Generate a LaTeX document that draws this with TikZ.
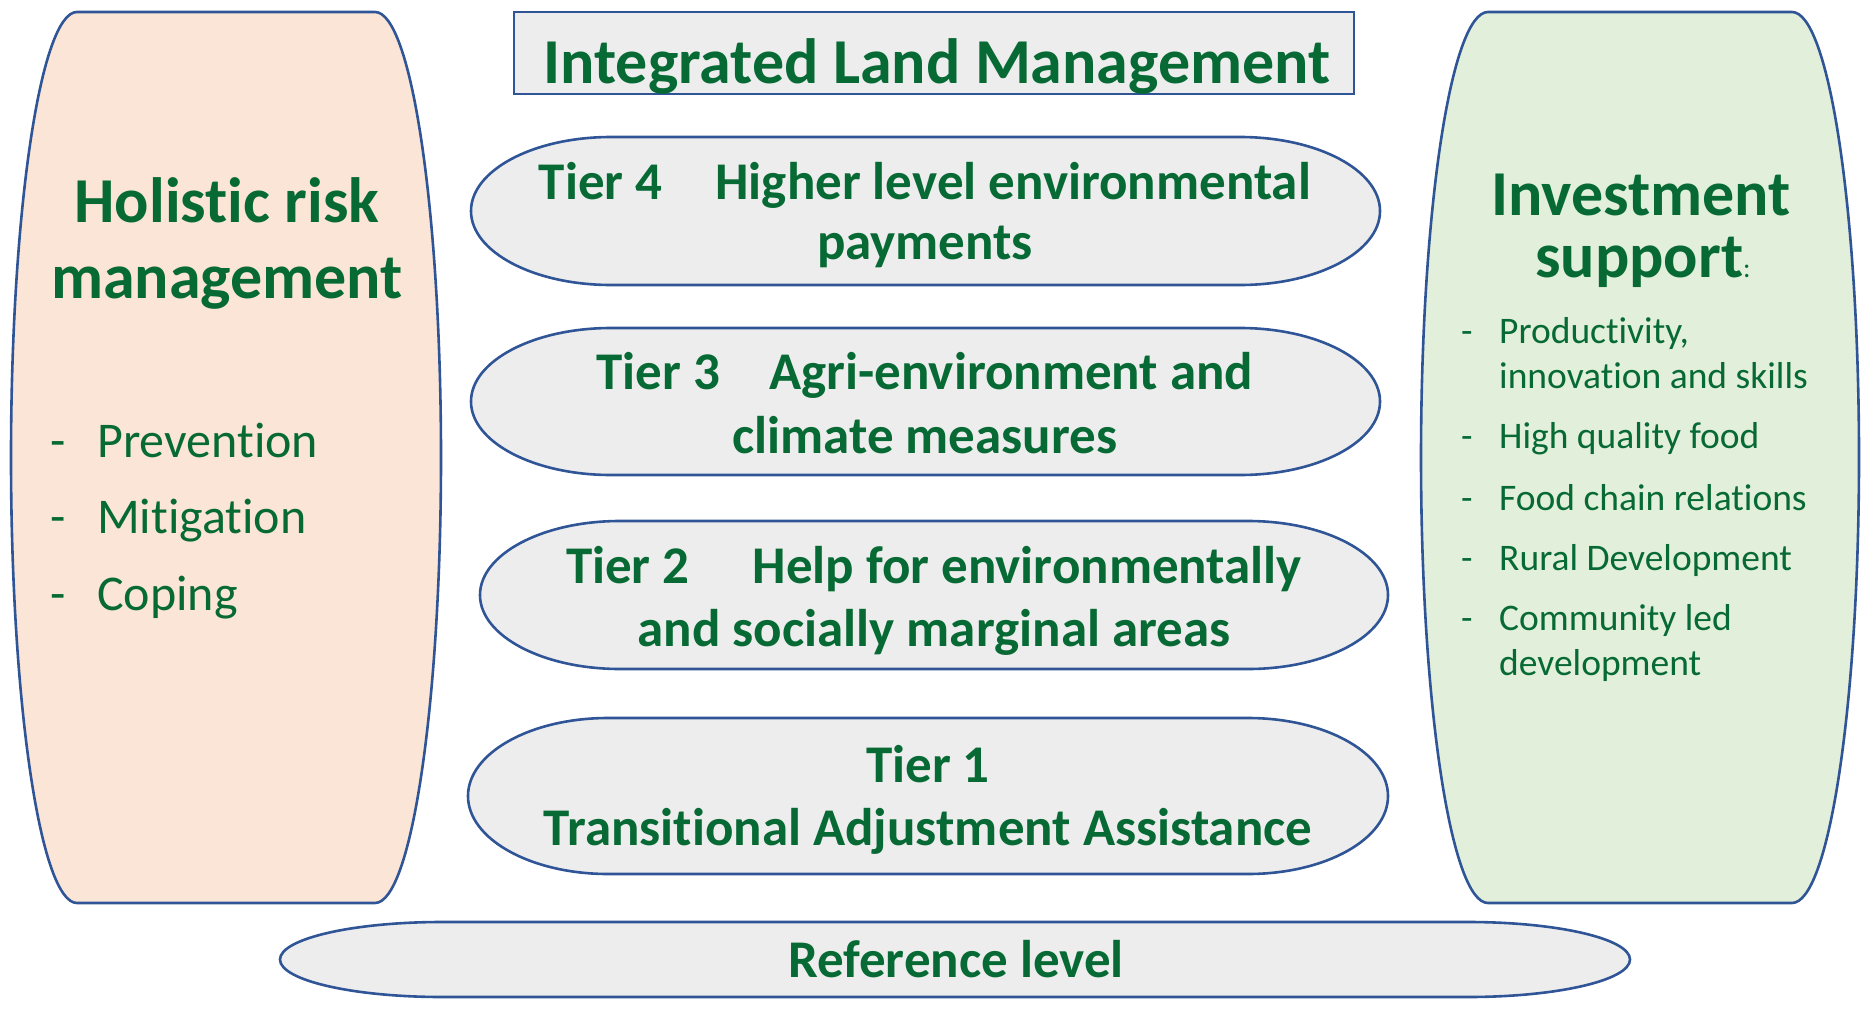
\documentclass[tikz,border=0pt]{standalone}
\usepackage{fontspec}
\setmainfont{Carlito}[Ligatures=NoCommon]
\definecolor{txtgreen}{HTML}{076A35}
\definecolor{edgeblue}{HTML}{2F5597}
\definecolor{tiergrey}{HTML}{EDEDED}
\definecolor{riskfill}{HTML}{FBE5D6}
\definecolor{investfill}{HTML}{E2EFDA}

% Closed shape with flat top/bottom and half-elliptical ends:
% #1 style, (#2,#3) top-left, (#4,#5) bottom-right, #6 horizontal radius of the ends
\newcommand\capsuleshape[6]{%
  \pgfmathsetmacro\cpym{(#3+#5)/2}%
  \pgfmathsetmacro\cpry{(#5-#3)/2}%
  \pgfmathsetmacro\cpkx{0.5523*#6}%
  \pgfmathsetmacro\cpky{0.5523*\cpry}%
  \pgfmathsetmacro\cpa{#2+#6}%
  \pgfmathsetmacro\cpb{#4-#6}%
  \draw[#1] (\cpa,#3) -- (\cpb,#3)
    .. controls (\cpb+\cpkx,#3) and (#4,\cpym-\cpky) .. (#4,\cpym)
    .. controls (#4,\cpym+\cpky) and (\cpb+\cpkx,#5) .. (\cpb,#5)
    -- (\cpa,#5)
    .. controls (\cpa-\cpkx,#5) and (#2,\cpym+\cpky) .. (#2,\cpym)
    .. controls (#2,\cpym-\cpky) and (\cpa-\cpkx,#3) .. (\cpa,#3) -- cycle;}

\begin{document}
\begin{tikzpicture}[x=1pt,y=-1pt,
  outline/.style={draw=edgeblue, line width=2.6pt},
  lbl/.style={inner sep=0pt, text=txtgreen, anchor=base},
  headfont/.style={font=\fontsize{64}{72}\selectfont\bfseries},
  sidehead/.style={font=\fontsize{64}{72}\selectfont\bfseries},
  tierfont/.style={font=\fontsize{53}{60}\selectfont\bfseries},
  risklist/.style={font=\fontsize{50}{56}\selectfont, anchor=base west},
  investlist/.style={font=\fontsize{37.5}{42}\selectfont, anchor=base west}]
\useasboundingbox (0,0) rectangle (1864,1009);

% side panels
\capsuleshape{outline, fill=riskfill}{11}{12}{441}{903}{66}
\capsuleshape{outline, fill=investfill}{1421}{12}{1859}{903}{67}

% title box
\draw[outline, fill=tiergrey] (514,12) rectangle (1354,94);
\node[lbl, headfont] (title) at (937,83) {Integrated Land Management};

% tiers
\capsuleshape{outline, fill=tiergrey}{471}{137}{1380}{285}{140}
\capsuleshape{outline, fill=tiergrey}{471}{328}{1380}{475}{140}
\capsuleshape{outline, fill=tiergrey}{480}{521}{1388}{669}{140}
\capsuleshape{outline, fill=tiergrey}{468}{718}{1388}{874}{140}
\capsuleshape{outline, fill=tiergrey}{280}{922}{1630}{997}{162}

\node[lbl, tierfont] (t4a) at (925,199) {Tier 4\hspace{41pt} Higher level environmental};
\node[lbl, tierfont] (t4b) at (925,259) {payments};
\node[lbl, tierfont] (t3a) at (925,389) {Tier 3\hspace{37pt} Agri-environment and};
\node[lbl, tierfont] (t3b) at (925,453) {climate measures};
\node[lbl, tierfont] (t2a) at (934,583) {Tier 2\hspace{51pt} Help for environmentally};
\node[lbl, tierfont] (t2b) at (934,646) {and socially marginal areas};
\node[lbl, tierfont] (t1a) at (928,782) {Tier 1};
\node[lbl, tierfont] (t1b) at (928,845) {Transitional Adjustment Assistance};
\node[lbl, tierfont] (ref) at (956,977) {Reference level};

% risk management panel
\node[lbl, sidehead] (risk1) at (227,222) {Holistic risk};
\node[lbl, sidehead] (risk2) at (227,298) {management};
\node[lbl, risklist] (rd1) at (50,457) {-};
\node[lbl, risklist] (ri1) at (97,457) {Prevention};
\node[lbl, risklist] (rd2) at (50,533) {-};
\node[lbl, risklist] (ri2) at (97,533) {Mitigation};
\node[lbl, risklist] (rd3) at (50,610) {-};
\node[lbl, risklist] (ri3) at (97,610) {Coping};

% investment panel
\node[lbl, sidehead] (inv1) at (1641,215) {Investment};
\node[lbl, sidehead] (inv2) at (1643,277) {support{\fontsize{28}{30}\selectfont\mdseries:}};
\node[lbl, investlist] (id1) at (1461,343) {-};
\node[lbl, investlist] (ii1) at (1499,343) {Productivity,};
\node[lbl, investlist] (ii1b) at (1499,388) {innovation and skills};
\node[lbl, investlist] (id2) at (1461,448) {-};
\node[lbl, investlist] (ii2) at (1499,448) {High quality food};
\node[lbl, investlist] (id3) at (1461,510) {-};
\node[lbl, investlist] (ii3) at (1499,510) {Food chain relations};
\node[lbl, investlist] (id4) at (1461,570) {-};
\node[lbl, investlist] (ii4) at (1499,570) {Rural Development};
\node[lbl, investlist] (id5) at (1461,630) {-};
\node[lbl, investlist] (ii5) at (1499,630) {Community led};
\node[lbl, investlist] (ii5b) at (1499,675) {development};
\end{tikzpicture}
\end{document}
